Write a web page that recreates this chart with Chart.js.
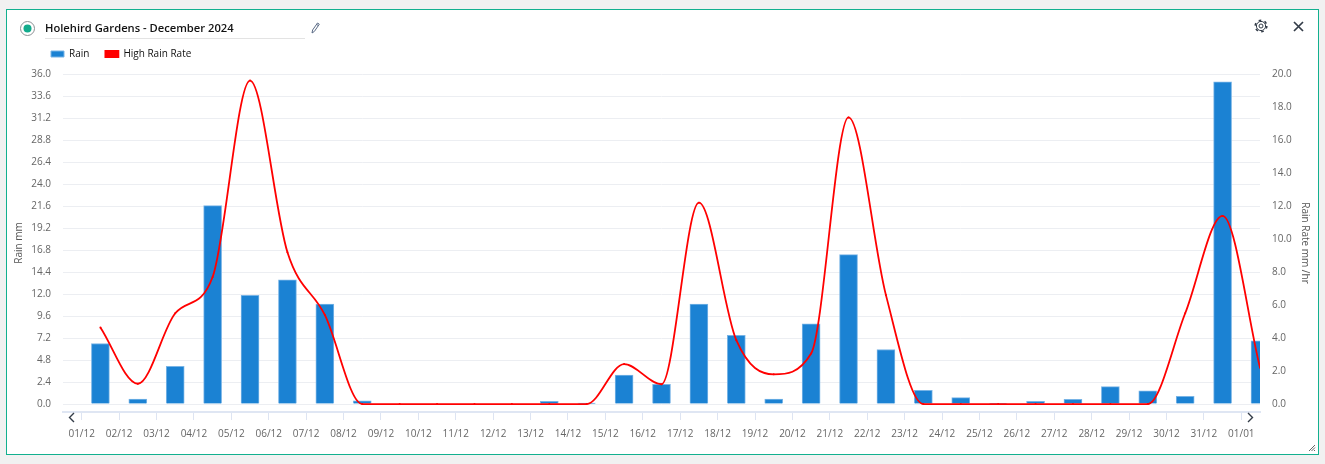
<!DOCTYPE html>
<html>
<head>
<meta charset="utf-8">
<title>Holehird Gardens - December 2024</title>
<script src="https://cdn.jsdelivr.net/npm/chart.js@4/dist/chart.umd.min.js"></script>
<style>
  html, body { margin: 0; padding: 0; background: #f1f1f1; }
  body { width: 1325px; height: 464px; position: relative; overflow: hidden; font-family: "Open Sans", sans-serif; }
  #card { position: absolute; left: 6px; top: 9px; width: 1311px; height: 444px; background: #fff; border: 1px solid #12b08f; }
  #chart { position: absolute; left: 0; top: 0; }
  #title { position: absolute; left: 45px; top: 19px; width: 260px; height: 19px; line-height: 18px; font-size: 11.2px; font-weight: 600; color: #111; border-bottom: 1px solid #e3e3e3; }
  svg.icon { position: absolute; overflow: visible; }
</style>
</head>
<body>
<div id="card"></div>
<canvas id="chart" width="1325" height="464"></canvas>
<div id="title">Holehird Gardens - December 2024</div>

<svg class="icon" style="left:20px;top:21px" width="15" height="15">
  <circle cx="7.5" cy="7.5" r="7" fill="#fff" stroke="#8a8f93" stroke-width="1"/>
  <circle cx="7.5" cy="7.5" r="4" fill="#12ab8c"/>
</svg>
<svg class="icon" style="left:311px;top:22px" width="9" height="12">
  <path d="M1 11 L1.6 8 L6.5 1 L8.3 2.2 L3.4 9.4 Z M5.6 2.4 L7.4 3.6" fill="none" stroke="#5a6a85" stroke-width="1"/>
</svg>
<svg class="icon" style="left:1254px;top:19px" width="14" height="14">
  <circle cx="7" cy="7" r="2" fill="none" stroke="#333c48" stroke-width="1"/>
  <circle cx="7" cy="7" r="4.6" fill="none" stroke="#333c48" stroke-width="1"/>
  <circle cx="7" cy="7" r="5.8" fill="none" stroke="#333c48" stroke-width="1.6" stroke-dasharray="2.6 3.47"/>
</svg>
<svg class="icon" style="left:1293px;top:21px" width="11" height="11">
  <path d="M1 1 L10 10 M10 1 L1 10" stroke="#333c48" stroke-width="1.7"/>
</svg>
<svg class="icon" style="left:68px;top:412px" width="7" height="12">
  <path d="M6 1 L1.5 5.5 L6 10" fill="none" stroke="#333c48" stroke-width="1.4"/>
</svg>
<svg class="icon" style="left:1247px;top:412px" width="7" height="12">
  <path d="M1 1 L5.5 5.5 L1 10" fill="none" stroke="#333c48" stroke-width="1.4"/>
</svg>
<svg class="icon" style="left:1308px;top:444px" width="8" height="8">
  <path d="M1 7 L7 1 M3.5 7 L7 3.5 M6 7 L7 6" stroke="#666" stroke-width="1"/>
</svg>

<script>
const days = ['01/12','02/12','03/12','04/12','05/12','06/12','07/12','08/12','09/12','10/12','11/12','12/12','13/12','14/12','15/12','16/12',
              '17/12','18/12','19/12','20/12','21/12','22/12','23/12','24/12','25/12','26/12','27/12','28/12','29/12','30/12','31/12','01/01'];
const rain = [6.6, 0.55, 4.1, 21.65, 11.85, 13.55, 10.9, 0.35, 0, 0, 0, 0, 0.3, 0.1, 3.15, 2.15,
              10.9, 7.5, 0.55, 8.75, 16.3, 5.95, 1.5, 0.7, 0.05, 0.3, 0.5, 1.9, 1.45, 0.85, 35.15, 6.9];
const highRainRate = [4.64, 1.23, 5.5, 7.7, 19.6, 9.2, 5.4, 0, 0, 0, 0, 0, 0, 0, 2.42, 1.2,
                      12.2, 3.87, 1.8, 3.06, 17.37, 6.6, 0, 0, 0, 0, 0, 0, 0, 5.5, 11.4, 2.2];
const rainTicks = [0, 2.4, 4.8, 7.2, 9.6, 12, 14.4, 16.8, 19.2, 21.6, 24, 26.4, 28.8, 31.2, 33.6, 36];
const rateTicks = [0, 2, 4, 6, 8, 10, 12, 14, 16, 18, 20];

const tickColor = '#666';
const tickFont = { family: '"Open Sans", sans-serif', size: 10 };

// values sit between the date ticks, half a day after each label
const atMidday = values => values.map((v, i) => ({ x: i + 0.5, y: v }));
const fixedTicks = list => scale => { scale.ticks = list.map(value => ({ value })); };

new Chart(document.getElementById('chart'), {
  data: {
    datasets: [
      {
        type: 'bar',
        label: 'Rain',
        data: atMidday(rain),
        yAxisID: 'y',
        backgroundColor: '#1b82d3',
        borderColor: '#78b4e6',
        borderWidth: 1,
        barThickness: 18,
        order: 2
      },
      {
        type: 'line',
        label: 'High Rain Rate',
        data: atMidday(highRainRate),
        yAxisID: 'y1',
        backgroundColor: '#ff0000',
        borderColor: '#ff0000',
        borderWidth: 1.8,
        cubicInterpolationMode: 'monotone',
        pointRadius: 1,
        pointBorderWidth: 0,
        pointBackgroundColor: '#ff0000',
        order: 1
      }
    ]
  },
  options: {
    responsive: false,
    animation: false,
    layout: { padding: { top: 38 } },
    plugins: {
      tooltip: { enabled: false },
      legend: {
        position: 'top',
        align: 'start',
        labels: {
          boxWidth: 13,
          boxHeight: 6,
          padding: 16,
          color: '#111',
          font: { family: '"Open Sans", sans-serif', size: 10, weight: '500' },
          sort: (a, b) => a.datasetIndex - b.datasetIndex
        }
      }
    },
    scales: {
      x: {
        type: 'linear',
        offset: false,
        min: -0.5,
        max: 31.5,
        afterBuildTicks: fixedTicks(days.map((d, i) => i)),
        afterFit: scale => { scale.height = 52; },
        grid: { offset: false, drawOnChartArea: false, drawTicks: true, tickLength: 8, color: '#dde4f2' },
        border: { color: '#dfe6f3', width: 2 },
        ticks: {
          color: tickColor,
          font: tickFont,
          padding: 8,
          maxRotation: 0,
          autoSkip: false,
          callback: value => days[value]
        }
      },
      y: {
        position: 'left',
        min: -0.87,
        max: 36,
        afterBuildTicks: fixedTicks(rainTicks),
        afterFit: scale => { scale.width = 63; },
        grid: { color: '#eceef2', drawTicks: false },
        border: { display: false },
        ticks: { color: tickColor, font: tickFont, padding: 12, callback: value => value.toFixed(1) },
        title: { display: true, text: 'Rain mm', color: '#555', font: tickFont, padding: { top: 13, bottom: 0 } }
      },
      y1: {
        position: 'right',
        min: -0.483,
        max: 20,
        afterBuildTicks: fixedTicks(rateTicks),
        afterFit: scale => { scale.width = 65; },
        grid: { drawOnChartArea: false, drawTicks: false },
        border: { display: false },
        ticks: { color: tickColor, font: tickFont, padding: 12, callback: value => value.toFixed(1) },
        title: { display: true, text: 'Rain Rate mm /hr', color: '#555', font: tickFont, padding: { top: 14, bottom: 0 } }
      }
    }
  },
  plugins: [{
    id: 'legendPlace',
    afterLayout(chart) {
      chart.legend.left = 35;
      chart.legend.top = 33;
    }
  }]
});
</script>
</body>
</html>
